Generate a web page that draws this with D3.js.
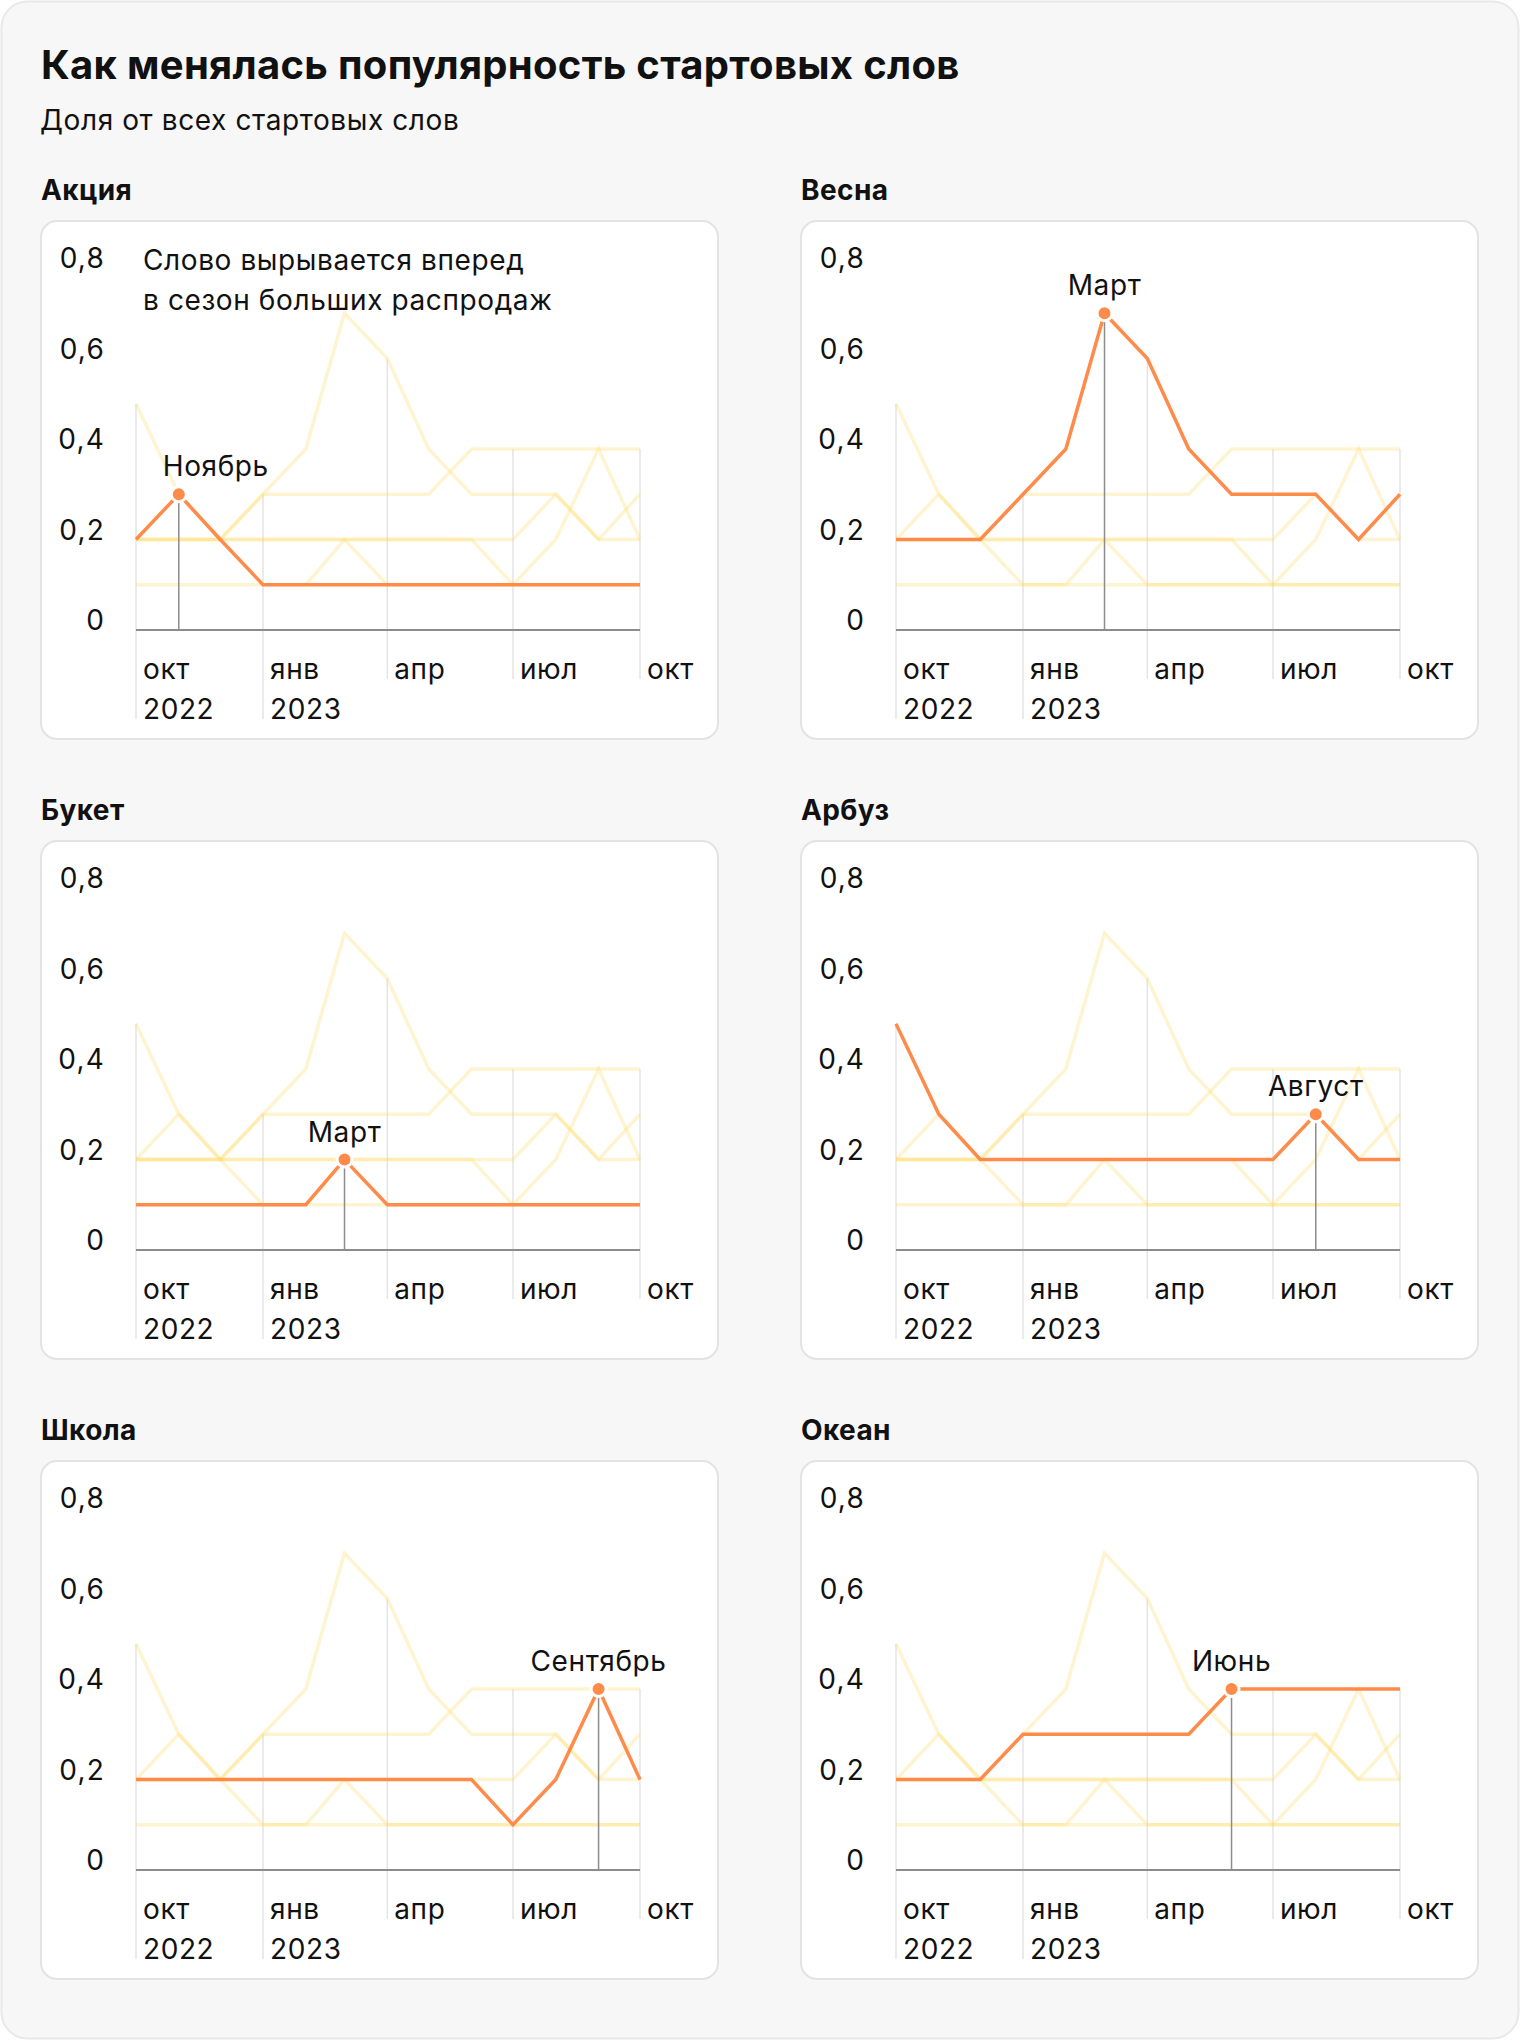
<!DOCTYPE html>
<html>
<head>
<meta charset="utf-8">
<script src="https://cdn.jsdelivr.net/npm/d3@7"></script>
<style>
  html, body { margin: 0; padding: 0; background: #ffffff; }
  svg { display: block; font-family: Inter, "Noto Sans", sans-serif; }
</style>
</head>
<body>
<svg id="chart" width="1520" height="2040"></svg>
<script>
// ---------- DATA ----------
const months = ["2022-10","2022-11","2022-12","2023-01","2023-02","2023-03","2023-04","2023-05","2023-06","2023-07","2023-08","2023-09","2023-10"];
const tickMonths = ["2022-10","2023-01","2023-04","2023-07","2023-10"];
const tickLabels = ["окт","янв","апр","июл","окт"];
const tickYears  = ["2022","2023","","",""];
const yTicks = [0, 0.2, 0.4, 0.6, 0.8];

const words = ["Акция","Весна","Букет","Арбуз","Школа","Океан"];
const aktsiya = [0.2,0.3,0.2,0.1,0.1,0.1,0.1,0.1,0.1,0.1,0.1,0.1,0.1];
const vesna   = [0.2,0.2,0.2,0.3,0.4,0.7,0.6,0.4,0.3,0.3,0.3,0.2,0.3];
const buket   = [0.1,0.1,0.1,0.1,0.1,0.2,0.1,0.1,0.1,0.1,0.1,0.1,0.1];
const arbuz   = [0.5,0.3,0.2,0.2,0.2,0.2,0.2,0.2,0.2,0.2,0.3,0.2,0.2];
const shkola  = [0.2,0.2,0.2,0.2,0.2,0.2,0.2,0.2,0.2,0.1,0.2,0.4,0.2];
const okean   = [0.2,0.2,0.2,0.3,0.3,0.3,0.3,0.3,0.4,0.4,0.4,0.4,0.4];
const seriesValues = [aktsiya, vesna, buket, arbuz, shkola, okean];

const peakMonths = ["2022-11","2023-03","2023-03","2023-08","2023-09","2023-06"];
const peakLabels = ["Ноябрь","Март","Март","Август","Сентябрь","Июнь"];

const title = "Как менялась популярность стартовых слов";
const subtitle = "Доля от всех стартовых слов";
const noteLines = ["Слово вырывается вперед", "в сезон больших распродаж"];

// ---------- LAYOUT / STYLE ----------
const cfg = {
  cardW: 677, cardH: 518,
  colX: [41, 801], rowY: [221, 841, 1461],
  plotL: 95, plotR: 599, plotTop: 47, plotBottom: 409,
  yLabelX: 64, tickDx: 7, monthBaseline: 458, yearBaseline: 498,
  orange: "#FF8B4A", faded: "#FFD966", fadedOpacity: 0.3,
  labelDx: [37, 0, 0, 0, 0, 0],
  fs: 28, ls: 0.6
};

const fmt = v => v === 0 ? "0" : String(v).replace(".", ",");

const svg = d3.select("#chart");

function txt(sel, fs, weight) {
  return sel.attr("font-size", fs || cfg.fs).attr("font-weight", weight || 400)
    .attr("letter-spacing", cfg.ls).attr("fill", "#111");
}

// outer background card
svg.append("rect").attr("x", 1.5).attr("y", 1.5).attr("width", 1517).attr("height", 2037)
  .attr("rx", 26).attr("fill", "#f7f7f7").attr("stroke", "#e8e8e8").attr("stroke-width", 2);

txt(svg.append("text").attr("x", 41).attr("y", 79).text(title), 40, 700).attr("letter-spacing", 0.3);
txt(svg.append("text").attr("x", 40).attr("y", 130).text(subtitle));

const parse = d3.timeParse("%Y-%m");
const x = d3.scaleTime()
  .domain([parse(months[0]), parse(months[months.length - 1])])
  .range([cfg.plotL, cfg.plotR]);
const y = d3.scaleLinear().domain([0, 0.8]).range([cfg.plotBottom, cfg.plotTop]);

const line = d3.line()
  .x((d, i) => x(parse(months[i])))
  .y(d => y(d));

words.forEach((word, wi) => {
  const cx = cfg.colX[wi % 2], cy = cfg.rowY[Math.floor(wi / 2)];
  const g = svg.append("g").attr("transform", `translate(${cx},${cy})`);

  // panel title
  txt(g.append("text").attr("x", 0).attr("y", -21).text(word), 28, 700).attr("letter-spacing", 0.4);

  // card
  g.append("rect").attr("x", 0).attr("y", 0).attr("width", cfg.cardW).attr("height", cfg.cardH)
    .attr("rx", 16).attr("fill", "#fff").attr("stroke", "#e3e3e3").attr("stroke-width", 2);

  // y labels
  txt(g.selectAll(".ylab").data(yTicks).join("text")
    .attr("x", cfg.yLabelX).attr("y", d => y(d))
    .attr("text-anchor", "end")
    .text(fmt)).attr("letter-spacing", 1.2);

  // vertical gridlines from the max of all series to the label bottom
  tickMonths.forEach((m, ti) => {
    const idx = months.indexOf(m);
    const maxV = d3.max(seriesValues, s => s[idx]);
    const bottom = tickYears[ti] ? cfg.yearBaseline : cfg.monthBaseline;
    g.append("line")
      .attr("x1", x(parse(m))).attr("x2", x(parse(m)))
      .attr("y1", y(maxV)).attr("y2", bottom)
      .attr("stroke", "#e4e4e4").attr("stroke-width", 1.5);
    txt(g.append("text").attr("x", x(parse(m)) + cfg.tickDx).attr("y", cfg.monthBaseline)
      .text(tickLabels[ti]));
    if (tickYears[ti]) {
      txt(g.append("text").attr("x", x(parse(m)) + cfg.tickDx).attr("y", cfg.yearBaseline)
        .text(tickYears[ti]));
    }
  });

  // faded lines of other words
  seriesValues.forEach((vals, si) => {
    if (si === wi) return;
    g.append("path").attr("d", line(vals))
      .attr("fill", "none").attr("stroke", cfg.faded)
      .attr("stroke-opacity", cfg.fadedOpacity).attr("stroke-width", 3.5);
  });

  // x axis baseline
  g.append("line").attr("x1", cfg.plotL).attr("x2", cfg.plotR)
    .attr("y1", y(0)).attr("y2", y(0))
    .attr("stroke", "#8c8c8c").attr("stroke-width", 2);

  // annotation line
  const pIdx = months.indexOf(peakMonths[wi]);
  const px = x(parse(peakMonths[wi])), pv = seriesValues[wi][pIdx];
  g.append("line").attr("x1", px).attr("x2", px).attr("y1", y(pv)).attr("y2", y(0))
    .attr("stroke", "#8c8c8c").attr("stroke-width", 1.5);

  // highlighted line
  g.append("path").attr("d", line(seriesValues[wi]))
    .attr("fill", "none").attr("stroke", cfg.orange).attr("stroke-width", 3.5);

  // dot
  g.append("circle").attr("cx", px).attr("cy", y(pv)).attr("r", 7.5)
    .attr("fill", cfg.orange).attr("stroke", "#fff").attr("stroke-width", 3);

  // label
  txt(g.append("text").attr("x", px + cfg.labelDx[wi]).attr("y", y(pv) - 18)
    .attr("text-anchor", "middle")
    .text(peakLabels[wi]));

  if (wi === 0) {
    noteLines.forEach((t, li) => {
      txt(g.append("text").attr("x", 102).attr("y", 49 + li * 40).text(t));
    });
  }
});
</script>
</body>
</html>
